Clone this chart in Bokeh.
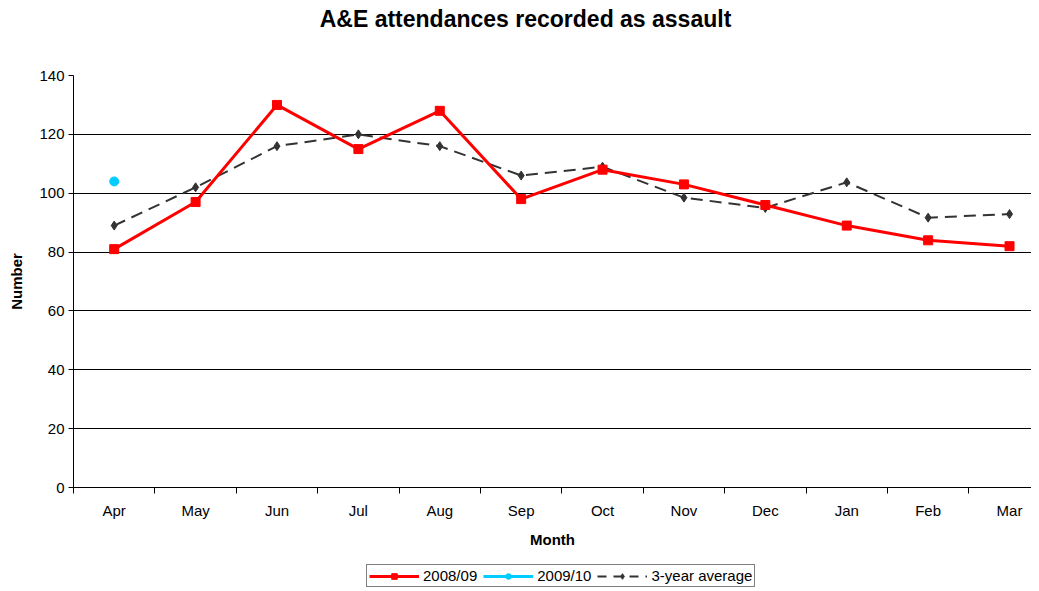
from bokeh.plotting import figure
from bokeh.layouts import column
from bokeh.models import Range1d, FixedTicker, Legend, LegendItem, Label
from bokeh.embed import file_html
from bokeh.resources import INLINE

months = ["Apr", "May", "Jun", "Jul", "Aug", "Sep", "Oct", "Nov", "Dec", "Jan", "Feb", "Mar"]
s2008 = [81, 97, 130, 115, 128, 98, 108, 103, 96, 89, 84, 82]
s2009 = [104]
avg3 = [89, 102, 116, 120, 116, 106, 109, 98.5, 95, 103.7, 91.7, 92.9]
yticks = [0, 20, 40, 60, 80, 100, 120, 140]
title_text = "A&E attendances recorded as assault"

FONT = "Liberation Sans"
xs = list(range(len(months)))
W = 1031

# ---- title strip (frame is aligned with the main chart's frame) ----
tf = figure(width=W, height=67, output_backend="svg", toolbar_location=None,
            x_range=Range1d(74, 1032), y_range=Range1d(0, 67),
            x_axis_location=None, y_axis_location=None,
            min_border_left=0, min_border_right=0, min_border_top=0, min_border_bottom=0)
tf.outline_line_color = None
tf.grid.grid_line_color = None
tf.add_layout(Label(x=526, y=49, text=title_text, text_font=FONT, text_font_size="23px",
                    text_font_style="bold", text_color="black",
                    text_align="center", text_baseline="middle"))

# ---- main chart ----
p = figure(frame_width=958, frame_height=412, output_backend="svg", toolbar_location=None,
           x_range=Range1d(-0.5, 11.27), y_range=Range1d(0, 140),
           min_border_left=73, min_border_right=0, min_border_top=8, min_border_bottom=76)
p.outline_line_color = None
p.background_fill_color = "white"
p.border_fill_color = "white"

p.xgrid.grid_line_color = None
p.ygrid.grid_line_color = "black"
p.ygrid.grid_line_width = 1
p.ygrid.ticker = FixedTicker(ticks=yticks)

xa = p.xaxis[0]
xa.ticker = FixedTicker(ticks=xs, minor_ticks=[i - 0.5 for i in range(13)])
xa.major_label_overrides = {i: m for i, m in enumerate(months)}
xa.major_tick_line_color = None
xa.minor_tick_in = 0
xa.minor_tick_out = 6
xa.minor_tick_line_color = "black"
xa.axis_line_color = "black"
xa.major_label_text_font = FONT
xa.major_label_text_font_size = "15px"
xa.major_label_text_color = "black"
xa.major_label_standoff = 8
xa.axis_label = "Month"
xa.axis_label_text_font = FONT
xa.axis_label_text_font_size = "15px"
xa.axis_label_text_font_style = "bold"
xa.axis_label_text_color = "black"
xa.axis_label_standoff = 9

ya = p.yaxis[0]
ya.ticker = FixedTicker(ticks=yticks)
ya.major_tick_in = 0
ya.major_tick_out = 5
ya.minor_tick_line_color = None
ya.axis_line_color = "black"
ya.major_label_text_font = FONT
ya.major_label_text_font_size = "15px"
ya.major_label_text_color = "black"
ya.major_label_standoff = 4
ya.axis_label = "Number"
ya.axis_label_text_font = FONT
ya.axis_label_text_font_size = "15px"
ya.axis_label_text_font_style = "bold"
ya.axis_label_text_color = "black"
ya.axis_label_standoff = 11

p.line(xs, avg3, line_color="#333333", line_width=2, line_dash="12 7")
p.scatter(xs, avg3, marker="diamond", size=9, fill_color="#333333", line_color="#333333")
p.line(xs, s2008, line_color="#FF0000", line_width=3)
p.scatter(xs, s2008, marker="square", size=9, fill_color="#FF0000", line_color="#FF0000")
p.line(xs[:1], s2009, line_color="#00CCFF", line_width=3)
p.scatter(xs[:1], s2009, marker="circle", size=9, fill_color="#00CCFF", line_color="#00CCFF")

# ---- legend strip (its glyphs use the series data, which lie outside this strip's view) ----
lf = figure(width=W, height=24, output_backend="svg", toolbar_location=None,
            x_range=Range1d(-100, -99), y_range=Range1d(-100, -99),
            x_axis_location=None, y_axis_location=None,
            min_border_left=0, min_border_right=0, min_border_top=0, min_border_bottom=0)
lf.outline_line_color = None
lf.grid.grid_line_color = None
l1 = lf.line(xs, s2008, line_color="#FF0000", line_width=3)
m1 = lf.scatter(xs, s2008, marker="square", size=9, fill_color="#FF0000", line_color="#FF0000")
l2 = lf.line(xs[:1], s2009, line_color="#00CCFF", line_width=3)
m2 = lf.scatter(xs[:1], s2009, marker="circle", size=9, fill_color="#00CCFF", line_color="#00CCFF")
l3 = lf.line(xs, avg3, line_color="#333333", line_width=2, line_dash="9 7")
m3 = lf.scatter(xs, avg3, marker="diamond", size=9, fill_color="#333333", line_color="#333333")

legend = Legend(items=[
    LegendItem(label="2008/09", renderers=[l1, m1]),
    LegendItem(label="2009/10", renderers=[l2, m2]),
    LegendItem(label="3-year average", renderers=[l3, m3]),
], orientation="horizontal", location=(293, 0))
legend.label_text_font = FONT
legend.label_text_font_size = "15px"
legend.label_text_color = "black"
legend.border_line_color = "black"
legend.border_line_width = 1
legend.glyph_width = 50
legend.glyph_height = 14
legend.label_standoff = 4
legend.spacing = 6
legend.padding = 2
legend.margin = 0
legend.label_height = 14
lf.add_layout(legend, "center")

layout = column(tf, p, lf, spacing=0)
open("out.html", "w").write(file_html(layout, INLINE))
